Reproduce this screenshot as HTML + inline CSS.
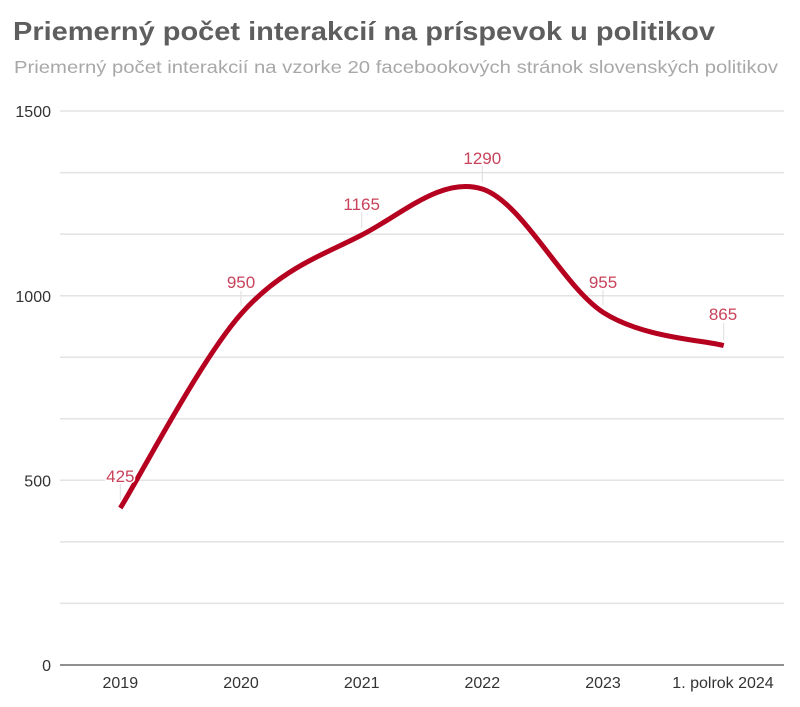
<!DOCTYPE html>
<html>
<head>
<meta charset="utf-8">
<style>
  html, body { margin: 0; padding: 0; background: #ffffff; }
  svg { display: block; }
  text { font-family: "Liberation Sans", "DejaVu Sans", sans-serif; }
</style>
</head>
<body>
<svg width="800" height="707" viewBox="0 0 800 707" xmlns="http://www.w3.org/2000/svg">
  <rect width="800" height="707" fill="#ffffff"/>

  <!-- Title & subtitle -->
  <text x="13" y="40" font-size="26" font-weight="bold" fill="#5e5e5e" textLength="702" lengthAdjust="spacingAndGlyphs">Priemerný počet interakcií na príspevok u politikov</text>
  <text x="14" y="73" font-size="17.5" fill="#a8a8a8" textLength="764" lengthAdjust="spacingAndGlyphs">Priemerný počet interakcií na vzorke 20 facebookových stránok slovenských politikov</text>

  <!-- Gridlines -->
  <g stroke="#e3e3e3" stroke-width="1.5">
    <line x1="60" y1="111" x2="784" y2="111"/>
    <line x1="60" y1="172.6" x2="784" y2="172.6"/>
    <line x1="60" y1="234.1" x2="784" y2="234.1"/>
    <line x1="60" y1="295.7" x2="784" y2="295.7"/>
    <line x1="60" y1="357.2" x2="784" y2="357.2"/>
    <line x1="60" y1="418.8" x2="784" y2="418.8"/>
    <line x1="60" y1="480.3" x2="784" y2="480.3"/>
    <line x1="60" y1="541.9" x2="784" y2="541.9"/>
    <line x1="60" y1="603.4" x2="784" y2="603.4"/>
  </g>
  <line x1="60" y1="665" x2="784" y2="665" stroke="#6a6a6a" stroke-width="1.6"/>

  <!-- Y axis labels -->
  <g font-size="16" fill="#333333" text-anchor="end">
    <text x="51" y="117">1500</text>
    <text x="51" y="302">1000</text>
    <text x="51" y="486.5">500</text>
    <text x="51" y="671">0</text>
  </g>

  <!-- X axis labels -->
  <g font-size="16" fill="#333333" text-anchor="middle">
    <text x="120.3" y="688">2019</text>
    <text x="241" y="688">2020</text>
    <text x="361.7" y="688">2021</text>
    <text x="482.3" y="688">2022</text>
    <text x="603" y="688">2023</text>
    <text x="723" y="688">1. polrok 2024</text>
  </g>

  <!-- Label leader ticks -->
  <g stroke="#dddddd" stroke-width="1">
    <line x1="120.3" y1="484" x2="120.3" y2="500"/>
    <line x1="241" y1="291" x2="241" y2="306"/>
    <line x1="361.7" y1="212" x2="361.7" y2="228"/>
    <line x1="482.3" y1="166" x2="482.3" y2="182"/>
    <line x1="603" y1="290" x2="603" y2="305"/>
    <line x1="723.7" y1="323" x2="723.7" y2="340"/>
  </g>

  <!-- Curve -->
  <path d="M120.3,508 C140.4,475.7 200.8,359.5 241,314 C281.2,268.5 321.5,255.8 361.7,235 C402.2,214.2 441.8,176.2 482.3,189 C522.2,201.8 562.7,285.9 603,312.3 C643.3,338.1 703.6,340 723.7,345.6"
        fill="none" stroke="#b5001f" stroke-width="5" stroke-linejoin="round" stroke-linecap="butt"/>

  <!-- Value labels -->
  <g font-size="17" fill="#c8435b" text-anchor="middle">
    <text x="120.3" y="482" stroke="#ffffff" stroke-width="3" paint-order="stroke">425</text>
    <text x="241" y="288">950</text>
    <text x="361.7" y="210">1165</text>
    <text x="482.3" y="164">1290</text>
    <text x="603" y="288">955</text>
    <text x="723" y="320">865</text>
  </g>
</svg>
</body>
</html>
